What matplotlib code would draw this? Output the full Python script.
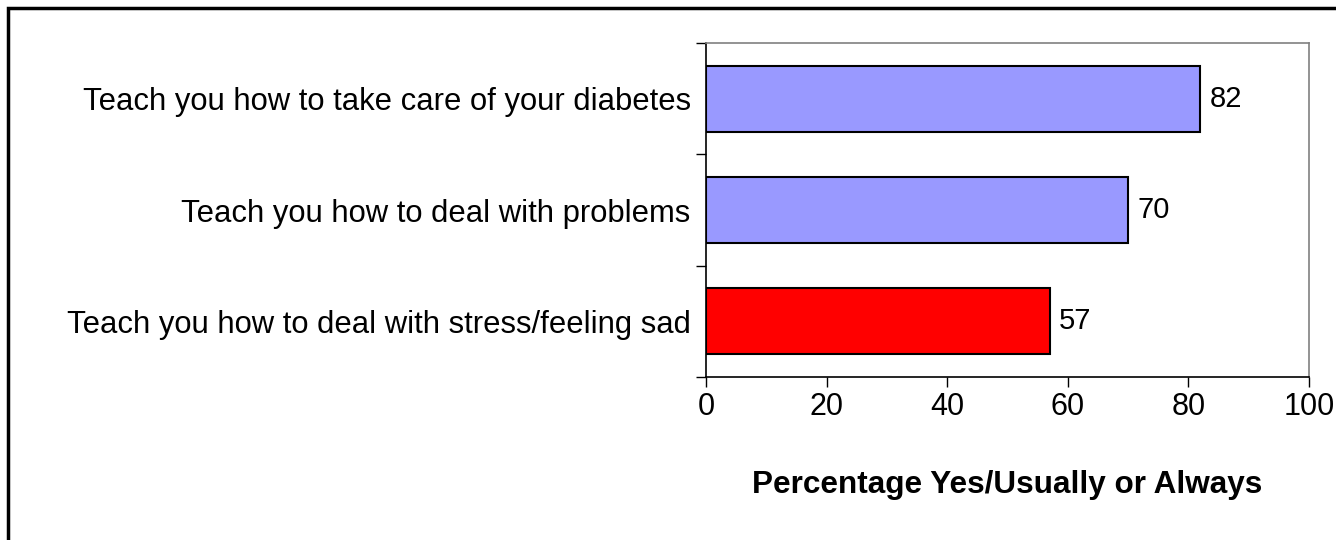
import matplotlib.pyplot as plt
from matplotlib.patches import Rectangle

plt.rcParams['font.family'] = ['Liberation Sans', 'DejaVu Sans']

# survey items, top to bottom
items = [
    'Teach you how to take care of your diabetes',
    'Teach you how to deal with problems',
    'Teach you how to deal with stress/feeling sad',
]
percent = [82, 70, 57]
bar_colors = ['#9999FF', '#9999FF', '#FF0000']

fig = plt.figure(figsize=(13.36, 5.4), dpi=100)
ax = fig.add_axes([706 / 1336, 1 - 377 / 540, 603 / 1336, 334 / 540])

ypos = list(range(len(items)))
ax.barh(ypos, percent, height=0.59, color=bar_colors,
        edgecolor='black', linewidth=1.5)

for y, v in zip(ypos, percent):
    ax.text(v + 1.5, y, str(v), va='center', ha='left', fontsize=21)

ax.set_xlim(0, 100)
ax.set_ylim(len(items) - 0.5, -0.5)
ax.set_xticks(range(0, 101, 20))

# categories labelled at centres, ticks drawn at the boundaries
ax.set_yticks(ypos)
ax.set_yticklabels(items, fontsize=22.3)
ax.tick_params(axis='y', which='major', length=0, pad=11)
ax.set_yticks([-0.5, 0.5, 1.5, 2.5], minor=True)
ax.tick_params(axis='y', which='minor', length=7, width=1, color='black')
ax.tick_params(axis='x', length=7, width=1, labelsize=22, pad=4)

ax.set_xlabel('Percentage Yes/Usually or Always', fontsize=22.7,
              fontweight='bold', labelpad=34)

for side in ['top', 'right']:
    ax.spines[side].set_color('#808080')
    ax.spines[side].set_linewidth(1.2)
for side in ['left', 'bottom']:
    ax.spines[side].set_color('black')
    ax.spines[side].set_linewidth(1.2)

# frame around the chart area, partly cut off at right and bottom
fig.patches.append(Rectangle((8 / 1336, -0.05), 1.1, 1 - 8 / 540 + 0.05,
                             transform=fig.transFigure, fill=False,
                             edgecolor='black', linewidth=2.5))

fig.savefig('out.png', dpi=100)
